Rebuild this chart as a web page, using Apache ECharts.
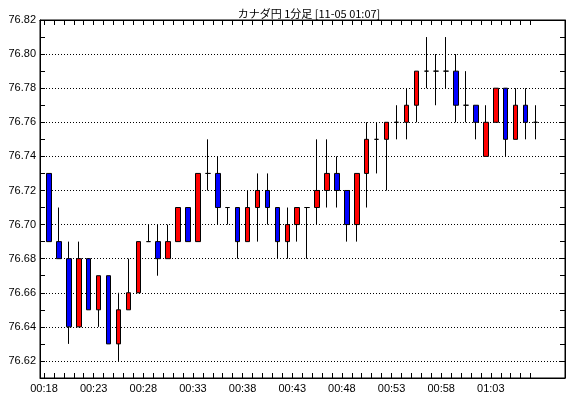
<!DOCTYPE html>
<html>
<head>
<meta charset="utf-8">
<script src="https://cdn.jsdelivr.net/npm/echarts@6/dist/echarts.min.js"></script>
<style>
html,body{margin:0;padding:0;background:#fff;}
#chart{width:570px;height:398px;}
</style>
</head>
<body>
<div id="chart"></div>
<script>
var titleText = 'カナダ円 1分足 [11-05 01:07]';
var times = ['00:18','00:19','00:20','00:21','00:22','00:23','00:24','00:25','00:26','00:27',
  '00:28','00:29','00:30','00:31','00:32','00:33','00:34','00:35','00:36','00:37',
  '00:38','00:39','00:40','00:41','00:42','00:43','00:44','00:45','00:46','00:47',
  '00:48','00:49','00:50','00:51','00:52','00:53','00:54','00:55','00:56','00:57',
  '00:58','00:59','01:00','01:01','01:02','01:03','01:04','01:05','01:06','01:07'];
var openV = [76.73,76.69,76.68,76.64,76.68,76.65,76.67,76.63,76.65,76.66,
  76.69,76.69,76.68,76.69,76.71,76.69,76.73,76.73,76.71,76.71,
  76.69,76.71,76.72,76.71,76.69,76.70,76.71,76.71,76.72,76.73,
  76.72,76.70,76.73,76.75,76.75,76.76,76.76,76.77,76.79,76.79,
  76.79,76.79,76.77,76.77,76.74,76.76,76.78,76.75,76.77,76.76];
var closeV = [76.69,76.68,76.64,76.68,76.65,76.67,76.63,76.65,76.66,76.69,
  76.69,76.68,76.69,76.71,76.69,76.73,76.73,76.71,76.71,76.69,
  76.71,76.72,76.71,76.69,76.70,76.71,76.71,76.72,76.73,76.72,
  76.70,76.73,76.75,76.75,76.76,76.76,76.77,76.79,76.79,76.79,
  76.79,76.77,76.77,76.76,76.76,76.78,76.75,76.77,76.76,76.76];
var lowV = [76.69,76.68,76.63,76.64,76.65,76.64,76.63,76.62,76.65,76.66,
  76.69,76.67,76.68,76.69,76.69,76.69,76.72,76.70,76.70,76.68,
  76.69,76.69,76.70,76.68,76.68,76.69,76.68,76.70,76.71,76.71,
  76.69,76.69,76.71,76.73,76.72,76.75,76.75,76.76,76.78,76.77,
  76.78,76.76,76.76,76.75,76.74,76.76,76.74,76.75,76.75,76.75];
var highV = [76.73,76.71,76.69,76.69,76.68,76.67,76.67,76.66,76.68,76.69,
  76.70,76.70,76.70,76.71,76.71,76.73,76.75,76.74,76.71,76.71,
  76.72,76.73,76.73,76.71,76.71,76.71,76.71,76.75,76.75,76.74,
  76.72,76.73,76.76,76.76,76.76,76.77,76.78,76.79,76.81,76.80,
  76.81,76.80,76.79,76.77,76.77,76.78,76.78,76.78,76.78,76.77];
var yLabelValues = [76.62,76.64,76.66,76.68,76.70,76.72,76.74,76.76,76.78,76.80,76.82];

var tickIdx = times.map(function(t, i){ return i; });
var labelIdx = tickIdx.filter(function(i){ return i % 5 === 0; });
var candleData = times.map(function(t, i){
  return [i + 0.5, openV[i], closeV[i], lowV[i], highV[i]];
});

var chart = echarts.init(document.getElementById('chart'), null, {renderer:'canvas'});
var xMin = -0.403, xMax = 52.47;
var yMin = 76.61, yMax = 76.82;
var font = 'Liberation Sans';
chart.setOption({
  animation: false,
  backgroundColor: '#fff',
  title: {
    text: titleText, left: 304, top: 3, textAlign: 'center',
    textStyle: {fontSize: 11, fontWeight: 'normal', color: '#000', fontFamily: 'Noto Sans CJK JP'}
  },
  grid: {left: 40, right: 5, top: 20, bottom: 20, show: true, borderColor: '#000', borderWidth: 1, backgroundColor: '#fff'},
  xAxis: [{
    type: 'value', min: xMin, max: xMax, position: 'bottom',
    axisLine: {show: true, onZero: false, lineStyle: {color: '#000', width: 1}},
    axisTick: {show: true, inside: true, length: 5, customValues: tickIdx, lineStyle: {color: '#000'}},
    axisLabel: {show: true, customValues: labelIdx, margin: 5, color: '#000', fontSize: 11, fontFamily: font,
      formatter: function(v){ return times[Math.round(v)] || ''; }},
    splitLine: {show: false}
  }, {
    type: 'value', min: xMin, max: xMax, position: 'top',
    axisLine: {show: true, onZero: false, lineStyle: {color: '#000', width: 1}},
    axisTick: {show: true, inside: true, length: 5, customValues: tickIdx, lineStyle: {color: '#000'}},
    axisLabel: {show: false},
    splitLine: {show: false}
  }],
  yAxis: [{
    type: 'value', min: yMin, max: yMax, interval: 0.01, position: 'left',
    axisLine: {show: true, onZero: false, lineStyle: {color: '#000', width: 1}},
    axisTick: {show: true, inside: true, length: 5, lineStyle: {color: '#000'}},
    axisLabel: {show: true, customValues: yLabelValues, margin: 4, color: '#000', fontSize: 11, fontFamily: font,
      formatter: function(v){ return v.toFixed(2); }},
    splitLine: {show: true, lineStyle: {color: ['rgba(0,0,0,0)', '#000'], type: [1, 2], width: 1}}
  }, {
    type: 'value', min: yMin, max: yMax, interval: 0.01, position: 'right',
    axisLine: {show: true, onZero: false, lineStyle: {color: '#000', width: 1}},
    axisTick: {show: true, inside: true, length: 5, lineStyle: {color: '#000'}},
    axisLabel: {show: false},
    splitLine: {show: false}
  }],
  series: [{
    type: 'candlestick',
    xAxisIndex: 0, yAxisIndex: 0,
    barWidth: 5,
    data: candleData,
    encode: {x: 0, y: [1, 2, 3, 4]},
    itemStyle: {color: '#ff0000', color0: '#0000ff', borderColor: '#000', borderColor0: '#000', borderColorDoji: '#000', borderWidth: 1}
  }]
});
</script>
</body>
</html>
